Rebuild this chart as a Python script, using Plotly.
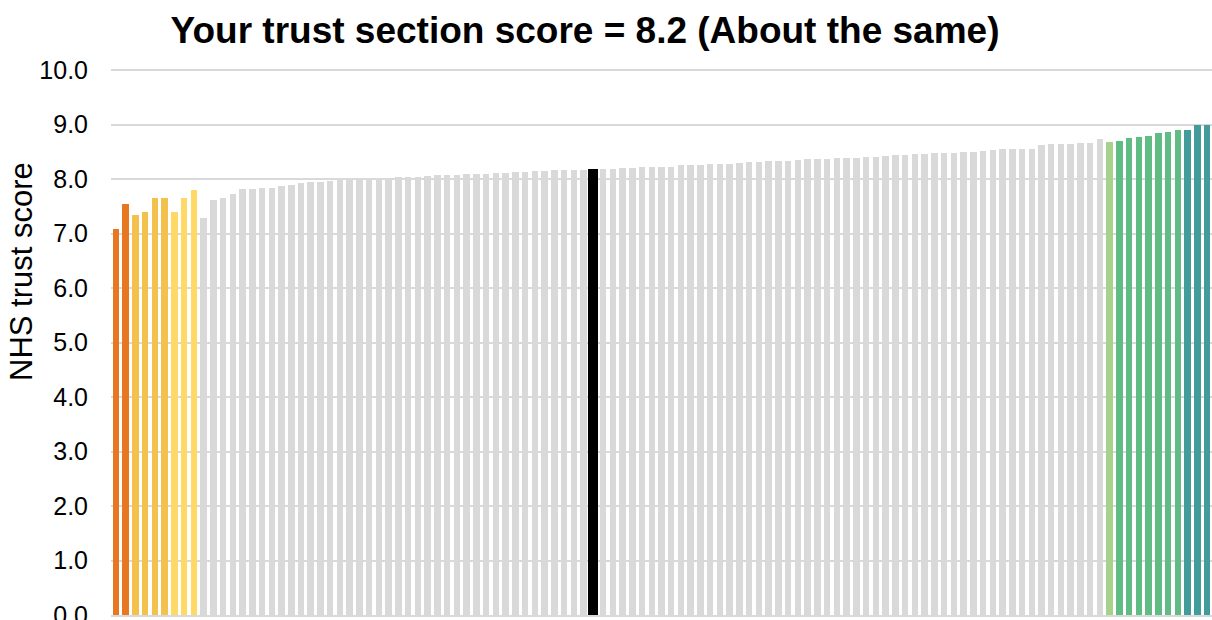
import plotly.graph_objects as go

# ---- data ----
scores = [
    7.08, 7.54, 7.34, 7.39, 7.65, 7.65, 7.39, 7.65, 7.80, 7.28,
    7.61, 7.66, 7.73, 7.81, 7.81, 7.83, 7.83, 7.87, 7.90, 7.93,
    7.95, 7.95, 7.97, 8.00, 8.00, 8.00, 8.00, 8.01, 8.01, 8.03,
    8.04, 8.04, 8.05, 8.07, 8.07, 8.08, 8.09, 8.10, 8.10, 8.11,
    8.12, 8.13, 8.13, 8.14, 8.15, 8.16, 8.17, 8.17, 8.17, 8.19,
    8.18, 8.18, 8.20, 8.21, 8.22, 8.23, 8.23, 8.23, 8.25, 8.25,
    8.25, 8.27, 8.27, 8.28, 8.29, 8.31, 8.31, 8.33, 8.33, 8.33,
    8.35, 8.37, 8.37, 8.37, 8.38, 8.38, 8.38, 8.41, 8.41, 8.43,
    8.45, 8.45, 8.46, 8.46, 8.48, 8.48, 8.48, 8.49, 8.50, 8.52,
    8.53, 8.55, 8.55, 8.55, 8.56, 8.62, 8.64, 8.64, 8.65, 8.67,
    8.67, 8.73, 8.68, 8.69, 8.76, 8.78, 8.79, 8.84, 8.86, 8.90,
    8.90, 8.99, 8.99,
]
your_trust_index = 49
your_trust_score = 8.2
band_names = ["Much worse", "Worse", "Somewhat worse", "About the same",
              "Somewhat better", "Better", "Much better"]
band_counts = [2, 4, 3, 93, 1, 7, 3]
y_ticks = [0, 1, 2, 3, 4, 5, 6, 7, 8, 9, 10]
title_text = "Your trust section score = 8.2 (About the same)"
y_label = "NHS trust score"

# ---- styles ----
band_colors = {
    "Much worse": "#E87722",
    "Worse": "#F2C14E",
    "Somewhat worse": "#FFD966",
    "About the same": "#D9D9D9",
    "Somewhat better": "#A9D18E",
    "Better": "#60BC84",
    "Much better": "#439C9A",
}

bands = []
for name, n in zip(band_names, band_counts):
    bands += [name] * n

x = list(range(len(scores)))
colors = ["#000000" if i == your_trust_index else band_colors[b] for i, b in enumerate(bands)]
widths = [1.0 if i == your_trust_index else 0.667 for i in x]

fig = go.Figure(go.Bar(
    x=x, y=scores, marker=dict(color=colors, line=dict(width=0)),
    width=widths, hovertext=bands,
))

W, H = 1212, 620
L, R, T, B = 111, 0, 69, 5
pw, ph = W - L - R, H - T - B

fig.update_layout(
    width=W, height=H,
    margin=dict(l=L, r=R, t=T, b=B, pad=0, autoexpand=False),
    paper_bgcolor="white", plot_bgcolor="white",
    font=dict(family="Liberation Sans, Arial, sans-serif", color="#000000"),
    showlegend=False,
    title=dict(text="<b>" + title_text + "</b>", x=585 / W, xref="container",
               y=1 - 30 / H, yref="container", xanchor="center", yanchor="middle",
               font=dict(size=37, color="#000000")),
    bargap=0,
)
fig.update_xaxes(range=[-0.5, len(scores) - 0.5], showticklabels=False,
                 showgrid=False, zeroline=False, showline=True, automargin=False,
                 linecolor="#D9D9D9", linewidth=2, ticks="")
fig.update_yaxes(range=[0, 10.02], tickvals=y_ticks, tickformat=".1f",
                 showgrid=True, gridcolor="#D9D9D9", gridwidth=1.5,
                 zeroline=False, showline=False, ticks="", ticklen=0,
                 ticklabelstandoff=22, ticklabeloverflow="allow", automargin=False,
                 tickfont=dict(size=25, color="#000000"))
fig.add_annotation(text=y_label, xref="paper", yref="paper",
                   x=(21 - L) / pw, y=(H - B - 272) / ph, textangle=-90,
                   showarrow=False, xanchor="center", yanchor="middle",
                   font=dict(size=31, color="#000000"))

fig.write_html("out.html", config={"displayModeBar": False},
               post_script="document.body.style.margin='0';document.body.style.overflow='hidden';")
